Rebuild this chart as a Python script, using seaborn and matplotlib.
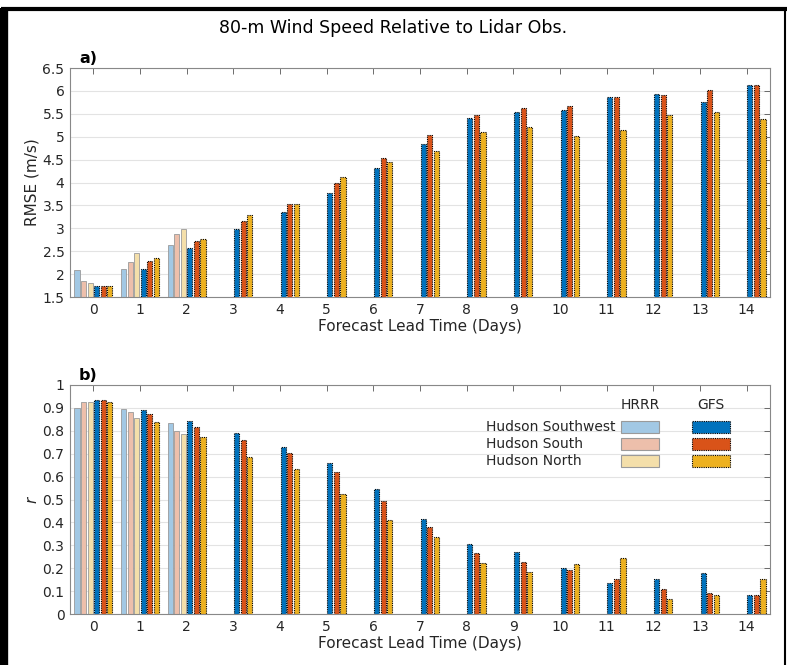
import numpy as np
import pandas as pd
import matplotlib
matplotlib.use("Agg")
import matplotlib.pyplot as plt
import seaborn as sns
from matplotlib.patches import Rectangle
from matplotlib.lines import Line2D

days = list(range(15))
series = ["HRRR Hudson Southwest", "HRRR Hudson South", "HRRR Hudson North",
          "GFS Hudson Southwest", "GFS Hudson South", "GFS Hudson North"]
legend_rows = ["Hudson Southwest", "Hudson South", "Hudson North"]

rmse_hrrr_sw = [2.10, 2.12, 2.64]
rmse_hrrr_s = [1.84, 2.26, 2.88]
rmse_hrrr_n = [1.80, 2.45, 2.99]
rmse_gfs_sw = [1.75, 2.11, 2.57, 2.98, 3.35, 3.76, 4.32, 4.85, 5.41, 5.55, 5.59, 5.86, 5.94, 5.76, 6.13]
rmse_gfs_s = [1.75, 2.29, 2.72, 3.16, 3.54, 4.00, 4.54, 5.04, 5.48, 5.62, 5.67, 5.87, 5.91, 6.02, 6.13]
rmse_gfs_n = [1.75, 2.35, 2.76, 3.30, 3.52, 4.12, 4.44, 4.68, 5.11, 5.22, 5.02, 5.15, 5.47, 5.55, 5.39]

r_hrrr_sw = [0.900, 0.894, 0.834]
r_hrrr_s = [0.925, 0.881, 0.800]
r_hrrr_n = [0.926, 0.856, 0.784]
r_gfs_sw = [0.935, 0.893, 0.844, 0.791, 0.730, 0.658, 0.546, 0.415, 0.304, 0.272, 0.203, 0.137, 0.155, 0.180, 0.082]
r_gfs_s = [0.935, 0.875, 0.815, 0.762, 0.701, 0.618, 0.495, 0.381, 0.266, 0.226, 0.193, 0.152, 0.111, 0.092, 0.085]
r_gfs_n = [0.924, 0.838, 0.775, 0.686, 0.634, 0.523, 0.412, 0.337, 0.223, 0.182, 0.219, 0.245, 0.067, 0.083, 0.155]

colors = ["#A2C8E4", "#EDBFAB", "#F4DFAA", "#0072BD", "#D95319", "#EDB120"]
hrrr_edge = "#9a9a9a"

def build_df(arrs):
    rows = []
    for name, vals in zip(series, arrs):
        for d, v in zip(days, vals):
            rows.append({"day": d, "series": name, "value": v})
    return pd.DataFrame(rows)

df_rmse = build_df([rmse_hrrr_sw, rmse_hrrr_s, rmse_hrrr_n, rmse_gfs_sw, rmse_gfs_s, rmse_gfs_n])
df_r = build_df([r_hrrr_sw, r_hrrr_s, r_hrrr_n, r_gfs_sw, r_gfs_s, r_gfs_n])

sns.set_theme(style="white")
plt.rcParams['font.family'] = ['DejaVu Sans']
txt = "#262626"

fig = plt.figure(figsize=(7.87, 6.65), dpi=100)
ax1 = fig.add_axes([70/787, 1-297/665, 700/787, 229/665])
ax2 = fig.add_axes([70/787, 1-614/665, 700/787, 229/665])

def draw(ax, df, ylim, yticks, ylabels, ylabel, panel):
    sns.barplot(data=df, x="day", y="value", hue="series", order=days,
                hue_order=series, palette=colors, errorbar=None,
                width=0.84, gap=0.22, legend=False, ax=ax, saturation=1)
    for i, cont in enumerate(ax.containers):
        for p in cont.patches:
            if i < 3:
                p.set_edgecolor(hrrr_edge)
                p.set_linewidth(0.6)
                p.set_linestyle("-")
            else:
                p.set_edgecolor("black")
                p.set_linewidth(0.8)
                p.set_linestyle((0, (1, 1)))
    ax.set_xlim(-0.5, 14.5)
    ax.set_ylim(*ylim)
    ax.set_yticks(yticks)
    ax.set_yticklabels(ylabels)
    ax.set_xticks(days)
    ax.set_xticklabels([str(d) for d in days])
    ax.yaxis.grid(True, color="#e3e3e3", linewidth=0.8)
    ax.set_axisbelow(True)
    ax.tick_params(direction="in", top=True, right=True, length=4, width=0.6,
                   colors="#555555", labelcolor=txt, labelsize=10, pad=4)
    for s in ax.spines.values():
        s.set_color("#888888")
        s.set_linewidth(0.8)
    ax.set_xlabel("Forecast Lead Time (Days)", fontsize=11, color=txt, labelpad=2)
    ax.set_ylabel(ylabel, fontsize=11, color=txt, labelpad=2)
    ax.text(0.013, 1.01, panel, transform=ax.transAxes, fontsize=11.5,
            fontweight="bold", color="black", va="bottom", ha="left")

def fmt(v):
    s = f"{v:.1f}"
    return s[:-2] if s.endswith(".0") else s

yt1 = [1.5 + 0.5 * k for k in range(11)]
draw(ax1, df_rmse, (1.5, 6.5), yt1, [fmt(v) for v in yt1], "RMSE (m/s)", "a)")
yt2 = [0.1 * k for k in range(11)]
draw(ax2, df_r, (0, 1), yt2, [fmt(v) for v in yt2], r"$r$", "b)")

# custom legend in panel b
def ax_xy(px, py):
    return ((px - 70) / 700, (614 - py) / 229)

for lab, (px, py) in zip(["HRRR", "GFS"], [(640, 405), (711, 405)]):
    x, y = ax_xy(px, py)
    ax2.text(x, y, lab, transform=ax2.transAxes, ha="center", va="center",
             fontsize=10, color=txt)
row_y = [427, 444, 461]
for k, (lab, py) in enumerate(zip(legend_rows, row_y)):
    x, y = ax_xy(486, py)
    ax2.text(x, y, lab, transform=ax2.transAxes, ha="left", va="center",
             fontsize=10, color=txt)
    x0, y0 = ax_xy(621, py + 6)
    ax2.add_patch(Rectangle((x0, y0), 38/700, 12/229, transform=ax2.transAxes,
                            facecolor=colors[k], edgecolor=hrrr_edge, linewidth=0.8))
    x1, y1 = ax_xy(692, py + 6)
    ax2.add_patch(Rectangle((x1, y1), 38/700, 12/229, transform=ax2.transAxes,
                            facecolor=colors[k + 3], edgecolor="black", linewidth=0.8,
                            linestyle=(0, (1, 1))))

fig.text(0.5, 1 - 28/665, "80-m Wind Speed Relative to Lidar Obs.", ha="center",
         va="center", fontsize=12.5, color="black")

# outer black frame
fig.add_artist(Line2D([4/787, 4/787], [0, 1 - 8/665], color="black", linewidth=6,
                      transform=fig.transFigure, solid_capstyle="butt"))
fig.add_artist(Line2D([1/787, 1], [1 - 9/665, 1 - 9/665], color="black", linewidth=3,
                      transform=fig.transFigure, solid_capstyle="butt"))
fig.add_artist(Line2D([785/787, 785/787], [0, 1 - 9/665], color="black", linewidth=1.5,
                      transform=fig.transFigure, solid_capstyle="butt"))

fig.savefig("out.png", dpi=100)
